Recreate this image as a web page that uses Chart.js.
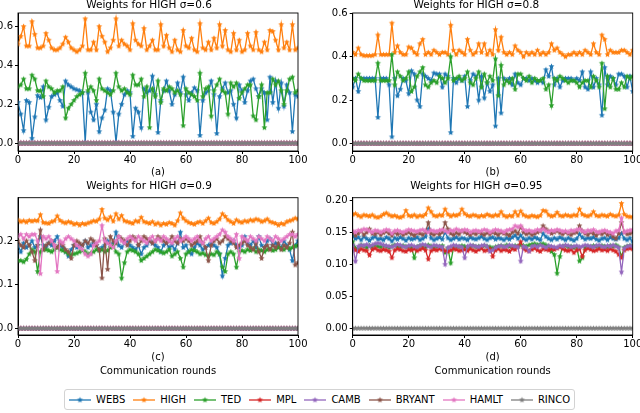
<!DOCTYPE html>
<html>
<head>
<meta charset="utf-8">
<script src="https://cdn.jsdelivr.net/npm/chart.js@4.4.1/dist/chart.umd.min.js"></script>
<style>
  body { margin: 0; background: #fff; width: 640px; height: 413px; overflow: hidden; position: relative;
         font-family: "DejaVu Sans", sans-serif; }
  .panel { position: absolute; }
  #legend { position: absolute; left: 64px; top: 389px; height: 21px; box-sizing: border-box;
            border: 1px solid #d3d3d3; border-radius: 3px; padding: 0 4px 0 4px;
            display: flex; align-items: center; gap: 8px; font-size: 10px; color: #000; }
  #legend span.item { display: flex; align-items: center; gap: 5px; }
</style>
</head>
<body>
<canvas id="pa" class="panel"></canvas>
<canvas id="pb" class="panel"></canvas>
<canvas id="pc" class="panel"></canvas>
<canvas id="pd" class="panel"></canvas>
<div id="legend"></div>
<script>
// ---- data ----
const ROUNDS = Array.from({ length: 101 }, (_, i) => i);
const NAMES = ["WEBS", "HIGH", "TED", "MPL", "CAMB", "BRYANT", "HAMLT", "RINCO"];
const COLORS = ["#1f77b4", "#ff7f0e", "#2ca02c", "#d62728", "#9467bd", "#8c564b", "#e377c2", "#7f7f7f"];
const X_TICKS = [0, 20, 40, 60, 80, 100];

const ZEROS = [
  0,0,0,0,0,0,0,0,0,0, 0,0,0,0,0,0,0,0,0,0, 0,0,0,0,0,0,0,0,0,0,
  0,0,0,0,0,0,0,0,0,0, 0,0,0,0,0,0,0,0,0,0, 0,0,0,0,0,0,0,0,0,0,
  0,0,0,0,0,0,0,0,0,0, 0,0,0,0,0,0,0,0,0,0, 0,0,0,0,0,0,0,0,0,0,
  0,0,0,0,0,0,0,0,0,0, 0,
];

// (a) sigma = 0.6
const A_WEBS = [
  0.21,0.15,0.065,0.22,0.21,0.025,0.135,0.245,0.235,0.29,
  0.12,0.185,0.24,0.25,0.26,0.22,0.19,0.32,0.30,0.29,
  0.28,0.275,0.27,0.26,0.005,0.26,0.16,0.12,0.20,0.06,
  0.13,0.17,0.28,0.27,0.16,0.005,0.15,0.20,0.25,0.27,
  0.26,0.035,0.18,0.16,0.08,0.28,0.26,0.27,0.345,0.25,
  0.055,0.22,0.27,0.32,0.27,0.20,0.25,0.31,0.26,0.34,
  0.25,0.22,0.26,0.285,0.27,0.04,0.22,0.26,0.27,0.32,
  0.25,0.05,0.24,0.28,0.31,0.26,0.27,0.20,0.13,0.30,
  0.27,0.21,0.27,0.32,0.33,0.28,0.24,0.28,0.26,0.12,
  0.34,0.21,0.32,0.18,0.31,0.19,0.30,0.26,0.06,0.25,
  0.24,
];
const A_HIGH = [
  0.51,0.55,0.60,0.50,0.50,0.625,0.56,0.49,0.49,0.50,
  0.565,0.53,0.49,0.48,0.48,0.49,0.51,0.545,0.52,0.49,
  0.48,0.47,0.48,0.50,0.64,0.48,0.48,0.52,0.48,0.60,
  0.55,0.52,0.47,0.49,0.53,0.64,0.50,0.53,0.51,0.50,
  0.48,0.615,0.53,0.51,0.50,0.59,0.48,0.50,0.53,0.48,
  0.48,0.61,0.50,0.555,0.49,0.47,0.53,0.48,0.47,0.58,
  0.50,0.49,0.54,0.48,0.47,0.615,0.49,0.48,0.52,0.48,
  0.54,0.49,0.61,0.50,0.58,0.48,0.47,0.565,0.48,0.53,
  0.47,0.48,0.565,0.50,0.48,0.57,0.48,0.47,0.52,0.48,
  0.58,0.575,0.53,0.48,0.61,0.49,0.52,0.48,0.61,0.48,
  0.49,
];
const A_TED = [
  0.29,0.30,0.33,0.28,0.28,0.35,0.33,0.27,0.27,0.24,
  0.32,0.29,0.28,0.26,0.27,0.27,0.29,0.13,0.18,0.20,
  0.22,0.24,0.25,0.26,0.36,0.27,0.29,0.27,0.22,0.33,
  0.28,0.27,0.26,0.25,0.27,0.36,0.29,0.27,0.28,0.26,
  0.25,0.35,0.30,0.30,0.33,0.24,0.29,0.08,0.28,0.24,
  0.32,0.21,0.28,0.27,0.29,0.28,0.26,0.27,0.25,0.09,
  0.28,0.26,0.25,0.24,0.22,0.36,0.24,0.28,0.29,0.14,
  0.27,0.30,0.33,0.27,0.26,0.15,0.31,0.29,0.31,0.23,
  0.26,0.28,0.30,0.30,0.14,0.12,0.24,0.30,0.08,0.26,
  0.26,0.33,0.30,0.32,0.27,0.20,0.27,0.33,0.34,0.26,
  0.27,
];

// (b) sigma = 0.8
const B_WEBS = [
  0.26,0.30,0.24,0.30,0.30,0.30,0.30,0.30,0.30,0.12,
  0.30,0.30,0.30,0.27,0.03,0.30,0.22,0.25,0.30,0.29,
  0.23,0.335,0.32,0.20,0.17,0.32,0.31,0.30,0.29,0.325,
  0.32,0.32,0.26,0.32,0.31,0.05,0.30,0.28,0.30,0.29,
  0.31,0.17,0.29,0.32,0.31,0.20,0.31,0.21,0.28,0.24,
  0.27,0.08,0.30,0.14,0.30,0.29,0.30,0.27,0.32,0.28,
  0.27,0.30,0.30,0.29,0.30,0.29,0.28,0.29,0.28,0.34,
  0.31,0.355,0.27,0.30,0.26,0.29,0.30,0.30,0.30,0.29,
  0.30,0.29,0.33,0.26,0.25,0.33,0.26,0.30,0.27,0.13,
  0.35,0.27,0.31,0.30,0.27,0.32,0.32,0.31,0.26,0.31,
  0.24,
];
const B_HIGH = [
  0.42,0.41,0.44,0.41,0.405,0.405,0.405,0.405,0.41,0.50,
  0.41,0.41,0.41,0.41,0.555,0.42,0.45,0.42,0.41,0.41,
  0.445,0.44,0.42,0.41,0.46,0.48,0.41,0.42,0.41,0.43,
  0.42,0.41,0.42,0.42,0.41,0.545,0.43,0.41,0.43,0.42,
  0.41,0.48,0.43,0.41,0.42,0.46,0.42,0.46,0.41,0.43,
  0.41,0.525,0.43,0.49,0.42,0.41,0.42,0.41,0.45,0.43,
  0.42,0.40,0.42,0.41,0.42,0.41,0.43,0.41,0.42,0.41,
  0.42,0.46,0.43,0.44,0.42,0.41,0.40,0.41,0.41,0.42,
  0.41,0.42,0.41,0.43,0.42,0.41,0.46,0.42,0.41,0.50,
  0.48,0.41,0.43,0.42,0.42,0.42,0.43,0.43,0.42,0.41,
  0.43,
];
const B_TED = [
  0.30,0.29,0.32,0.30,0.29,0.29,0.29,0.29,0.29,0.37,
  0.29,0.29,0.29,0.29,0.41,0.27,0.33,0.31,0.29,0.30,
  0.33,0.24,0.26,0.31,0.33,0.35,0.27,0.26,0.28,0.29,
  0.28,0.31,0.30,0.28,0.30,0.40,0.29,0.30,0.31,0.29,
  0.30,0.33,0.28,0.27,0.30,0.33,0.26,0.32,0.28,0.31,
  0.29,0.39,0.22,0.36,0.27,0.29,0.28,0.30,0.25,0.32,
  0.32,0.30,0.29,0.31,0.28,0.30,0.29,0.29,0.30,0.25,
  0.27,0.175,0.30,0.29,0.31,0.30,0.29,0.28,0.29,0.29,
  0.28,0.26,0.28,0.29,0.29,0.26,0.31,0.29,0.26,0.37,
  0.16,0.31,0.26,0.30,0.25,0.25,0.28,0.26,0.31,0.30,
  0.31,
];

// (c) sigma = 0.9
const C_WEBS = [
  0.19,0.175,0.195,0.185,0.19,0.20,0.185,0.19,0.21,0.19,
  0.185,0.195,0.19,0.20,0.21,0.19,0.185,0.175,0.165,0.18,
  0.19,0.185,0.19,0.19,0.20,0.185,0.19,0.195,0.19,0.18,
  0.185,0.19,0.20,0.19,0.195,0.22,0.19,0.185,0.195,0.20,
  0.19,0.185,0.18,0.19,0.17,0.185,0.19,0.20,0.195,0.19,
  0.185,0.175,0.19,0.195,0.185,0.19,0.18,0.195,0.22,0.185,
  0.19,0.175,0.17,0.185,0.195,0.19,0.18,0.185,0.19,0.195,
  0.19,0.185,0.17,0.12,0.16,0.19,0.195,0.20,0.19,0.185,
  0.19,0.21,0.195,0.19,0.20,0.185,0.21,0.19,0.185,0.20,
  0.205,0.19,0.195,0.19,0.185,0.20,0.19,0.18,0.155,0.19,
  0.20,
];
const C_HIGH = [
  0.248,0.244,0.246,0.243,0.247,0.245,0.247,0.246,0.260,0.242,
  0.241,0.240,0.244,0.246,0.257,0.247,0.243,0.241,0.244,0.242,
  0.238,0.240,0.236,0.240,0.238,0.241,0.243,0.246,0.245,0.250,
  0.272,0.252,0.248,0.255,0.245,0.262,0.250,0.258,0.246,0.244,
  0.242,0.240,0.246,0.244,0.254,0.244,0.242,0.240,0.244,0.238,
  0.241,0.236,0.240,0.238,0.242,0.240,0.236,0.246,0.264,0.252,
  0.246,0.242,0.240,0.238,0.242,0.244,0.240,0.246,0.252,0.242,
  0.240,0.244,0.250,0.262,0.256,0.248,0.244,0.240,0.248,0.244,
  0.242,0.246,0.244,0.248,0.246,0.250,0.248,0.244,0.246,0.250,
  0.244,0.242,0.240,0.236,0.240,0.238,0.244,0.246,0.248,0.252,
  0.250,
];
const C_TED = [
  0.155,0.155,0.152,0.158,0.17,0.18,0.175,0.13,0.175,0.18,
  0.18,0.178,0.175,0.18,0.185,0.18,0.178,0.175,0.17,0.168,
  0.17,0.172,0.175,0.178,0.175,0.17,0.172,0.175,0.18,0.178,
  0.18,0.175,0.178,0.185,0.19,0.175,0.17,0.115,0.15,0.175,
  0.18,0.178,0.175,0.17,0.155,0.16,0.165,0.17,0.175,0.18,
  0.178,0.175,0.172,0.175,0.18,0.165,0.17,0.175,0.16,0.14,
  0.17,0.175,0.18,0.178,0.175,0.17,0.172,0.168,0.165,0.17,
  0.168,0.175,0.17,0.14,0.13,0.17,0.175,0.17,0.14,0.175,
  0.178,0.175,0.18,0.178,0.182,0.175,0.18,0.178,0.175,0.18,
  0.182,0.178,0.18,0.185,0.182,0.18,0.185,0.182,0.185,0.188,
  0.19,
];
const C_BRYANT = [
  0.20,0.19,0.185,0.20,0.19,0.175,0.155,0.19,0.225,0.18,
  0.19,0.195,0.20,0.19,0.185,0.195,0.19,0.18,0.175,0.16,
  0.19,0.20,0.195,0.19,0.20,0.195,0.205,0.20,0.19,0.18,
  0.115,0.205,0.135,0.21,0.20,0.195,0.21,0.205,0.20,0.19,
  0.20,0.21,0.205,0.19,0.20,0.21,0.205,0.20,0.195,0.20,
  0.21,0.205,0.20,0.195,0.20,0.21,0.20,0.195,0.205,0.20,
  0.205,0.20,0.19,0.195,0.20,0.21,0.195,0.185,0.155,0.19,
  0.20,0.205,0.195,0.20,0.21,0.205,0.20,0.195,0.185,0.19,
  0.195,0.20,0.19,0.185,0.18,0.195,0.175,0.16,0.185,0.19,
  0.18,0.19,0.185,0.195,0.18,0.19,0.185,0.195,0.22,0.145,
  0.15,
];
const C_HAMLT = [
  0.21,0.215,0.205,0.215,0.21,0.215,0.215,0.20,0.125,0.21,
  0.205,0.21,0.20,0.19,0.13,0.20,0.195,0.205,0.21,0.205,
  0.20,0.19,0.185,0.18,0.17,0.165,0.17,0.19,0.195,0.20,
  0.235,0.20,0.195,0.19,0.185,0.20,0.21,0.20,0.195,0.205,
  0.21,0.205,0.20,0.21,0.205,0.20,0.195,0.205,0.21,0.20,
  0.205,0.20,0.21,0.205,0.20,0.195,0.205,0.21,0.20,0.205,
  0.21,0.205,0.20,0.205,0.21,0.20,0.195,0.205,0.21,0.20,
  0.205,0.21,0.215,0.225,0.22,0.21,0.205,0.20,0.215,0.16,
  0.21,0.205,0.20,0.21,0.205,0.20,0.21,0.205,0.20,0.21,
  0.205,0.20,0.21,0.205,0.20,0.205,0.21,0.215,0.215,0.21,
  0.215,
];

// (d) sigma = 0.95
const D_WEBS = [
  0.145,0.140,0.142,0.138,0.143,0.140,0.137,0.141,0.143,0.139,
  0.140,0.138,0.142,0.140,0.136,0.141,0.139,0.142,0.140,0.137,
  0.141,0.139,0.140,0.142,0.138,0.140,0.143,0.155,0.141,0.138,
  0.140,0.142,0.139,0.150,0.141,0.138,0.140,0.142,0.139,0.141,
  0.140,0.138,0.142,0.140,0.139,0.141,0.143,0.140,0.138,0.141,
  0.142,0.139,0.141,0.140,0.138,0.141,0.139,0.142,0.145,0.140,
  0.145,0.140,0.138,0.141,0.139,0.142,0.140,0.138,0.148,0.143,
  0.140,0.138,0.141,0.139,0.142,0.140,0.138,0.141,0.139,0.137,
  0.140,0.147,0.142,0.139,0.141,0.140,0.142,0.139,0.137,0.140,
  0.141,0.138,0.142,0.140,0.139,0.141,0.148,0.140,0.138,0.141,
  0.135,
];
const D_HIGH = [
  0.178,0.179,0.176,0.174,0.177,0.176,0.175,0.177,0.174,0.173,
  0.175,0.178,0.180,0.177,0.175,0.176,0.174,0.173,0.175,0.184,
  0.176,0.175,0.177,0.174,0.176,0.175,0.178,0.188,0.182,0.176,
  0.175,0.177,0.176,0.186,0.178,0.175,0.177,0.176,0.178,0.186,
  0.179,0.176,0.175,0.177,0.176,0.174,0.176,0.175,0.178,0.176,
  0.175,0.177,0.176,0.182,0.176,0.174,0.176,0.175,0.182,0.176,
  0.183,0.177,0.175,0.174,0.176,0.175,0.174,0.176,0.184,0.183,
  0.177,0.175,0.176,0.181,0.176,0.175,0.177,0.176,0.175,0.177,
  0.176,0.186,0.178,0.176,0.175,0.177,0.182,0.176,0.175,0.177,
  0.176,0.175,0.178,0.176,0.175,0.177,0.195,0.178,0.175,0.174,
  0.174,
];
const D_TED = [
  0.135,0.125,0.124,0.130,0.128,0.126,0.129,0.127,0.130,0.128,
  0.127,0.129,0.128,0.126,0.128,0.130,0.127,0.128,0.129,0.127,
  0.128,0.126,0.110,0.127,0.129,0.128,0.127,0.130,0.128,0.126,
  0.128,0.127,0.129,0.118,0.125,0.102,0.126,0.128,0.127,0.129,
  0.128,0.126,0.128,0.129,0.127,0.128,0.126,0.129,0.128,0.127,
  0.125,0.127,0.128,0.129,0.127,0.130,0.128,0.127,0.129,0.128,
  0.130,0.129,0.128,0.130,0.131,0.132,0.130,0.131,0.132,0.130,
  0.128,0.120,0.115,0.086,0.112,0.128,0.129,0.127,0.128,0.126,
  0.127,0.105,0.110,0.126,0.128,0.127,0.129,0.128,0.127,0.129,
  0.128,0.127,0.129,0.128,0.130,0.127,0.112,0.126,0.128,0.129,
  0.128,
];
const D_MPL = [
  0.125,0.122,0.120,0.124,0.122,0.121,0.114,0.123,0.125,0.122,
  0.121,0.123,0.122,0.120,0.110,0.122,0.124,0.123,0.121,0.120,
  0.123,0.122,0.124,0.121,0.123,0.125,0.122,0.108,0.121,0.123,
  0.122,0.124,0.123,0.121,0.120,0.122,0.124,0.123,0.121,0.122,
  0.123,0.121,0.124,0.122,0.120,0.123,0.125,0.121,0.122,0.124,
  0.112,0.122,0.124,0.121,0.123,0.122,0.120,0.124,0.123,0.128,
  0.135,0.124,0.122,0.121,0.123,0.125,0.122,0.120,0.124,0.123,
  0.122,0.124,0.123,0.125,0.127,0.124,0.122,0.121,0.123,0.118,
  0.122,0.124,0.112,0.122,0.125,0.123,0.121,0.122,0.124,0.122,
  0.123,0.121,0.124,0.122,0.120,0.115,0.110,0.122,0.124,0.125,
  0.124,
];
const D_CAMB = [
  0.130,0.105,0.128,0.130,0.129,0.131,0.128,0.130,0.132,0.133,
  0.132,0.130,0.129,0.128,0.127,0.129,0.131,0.130,0.128,0.127,
  0.129,0.130,0.128,0.127,0.129,0.131,0.130,0.128,0.127,0.130,
  0.129,0.128,0.127,0.100,0.126,0.128,0.130,0.129,0.128,0.127,
  0.110,0.128,0.130,0.129,0.128,0.127,0.129,0.130,0.128,0.120,
  0.122,0.126,0.128,0.129,0.127,0.128,0.130,0.129,0.128,0.127,
  0.105,0.128,0.126,0.120,0.128,0.129,0.127,0.130,0.128,0.126,
  0.129,0.128,0.127,0.126,0.129,0.128,0.130,0.129,0.127,0.128,
  0.129,0.127,0.128,0.130,0.129,0.128,0.127,0.129,0.130,0.128,
  0.127,0.129,0.128,0.130,0.128,0.126,0.088,0.125,0.128,0.129,
  0.128,
];
const D_BRYANT = [
  0.150,0.145,0.148,0.152,0.146,0.150,0.155,0.148,0.147,0.150,
  0.146,0.149,0.151,0.148,0.145,0.150,0.147,0.149,0.146,0.148,
  0.150,0.147,0.145,0.149,0.148,0.146,0.150,0.165,0.148,0.146,
  0.149,0.147,0.150,0.165,0.155,0.148,0.146,0.149,0.147,0.152,
  0.150,0.148,0.146,0.149,0.147,0.150,0.148,0.146,0.149,0.147,
  0.150,0.148,0.146,0.150,0.148,0.147,0.145,0.150,0.152,0.148,
  0.158,0.150,0.147,0.149,0.146,0.148,0.150,0.152,0.160,0.155,
  0.151,0.148,0.150,0.152,0.149,0.147,0.150,0.148,0.146,0.149,
  0.150,0.160,0.152,0.148,0.146,0.150,0.148,0.145,0.149,0.147,
  0.150,0.146,0.148,0.143,0.140,0.148,0.165,0.150,0.147,0.148,
  0.150,
];
const D_HAMLT = [
  0.152,0.150,0.153,0.152,0.155,0.154,0.152,0.150,0.153,0.152,
  0.150,0.152,0.154,0.153,0.148,0.152,0.153,0.151,0.150,0.152,
  0.154,0.153,0.152,0.151,0.153,0.154,0.152,0.150,0.153,0.152,
  0.151,0.153,0.154,0.152,0.150,0.153,0.152,0.155,0.153,0.152,
  0.154,0.153,0.150,0.152,0.153,0.151,0.152,0.154,0.153,0.150,
  0.152,0.154,0.153,0.152,0.150,0.153,0.154,0.155,0.160,0.158,
  0.160,0.154,0.152,0.153,0.151,0.152,0.154,0.153,0.155,0.152,
  0.150,0.153,0.152,0.154,0.153,0.151,0.152,0.150,0.153,0.152,
  0.154,0.155,0.152,0.150,0.153,0.152,0.154,0.151,0.150,0.152,
  0.153,0.151,0.150,0.148,0.152,0.153,0.172,0.150,0.152,0.153,
  0.154,
];

const A_TICKS = [0.0, 0.2, 0.4, 0.6];
const B_TICKS = [0.0, 0.2, 0.4, 0.6];
const C_TICKS = [0.0, 0.1, 0.2];
const D_TICKS = [0.00, 0.05, 0.10, 0.15, 0.20];

// ---- drawing ----
const FONT = { family: '"DejaVu Sans", sans-serif', size: 10 };
const INK = "#000";

// matplotlib-like filled '*' marker
function starMarker(color, r) {
  const size = Math.ceil(r * 2) + 2;
  const c = document.createElement("canvas");
  c.width = size; c.height = size;
  const g = c.getContext("2d");
  const cx = size / 2, cy = size / 2, inner = r * 0.45;
  g.beginPath();
  for (let k = 0; k < 10; k++) {
    const rad = k % 2 ? inner : r;
    const a = -Math.PI / 2 + (k * Math.PI) / 5;
    const px = cx + rad * Math.cos(a), py = cy + rad * Math.sin(a);
    if (k === 0) g.moveTo(px, py); else g.lineTo(px, py);
  }
  g.closePath();
  g.fillStyle = color;
  g.fill();
  return c;
}
const MARKERS = COLORS.map((c) => starMarker(c, 3.1));

// spines on all four sides
const frame = {
  id: "frame",
  afterDatasetsDraw(chart) {
    const { ctx, chartArea: a } = chart;
    ctx.save();
    ctx.strokeStyle = INK;
    ctx.lineWidth = 0.9;
    ctx.strokeRect(a.left, a.top, a.right - a.left, a.bottom - a.top);
    ctx.restore();
  },
};

function panel(id, box, title, xTitle, series, yTicks, yMin, yMax, decimals) {
  const canvas = document.getElementById(id);
  canvas.style.left = box.left + "px";
  canvas.style.top = box.top + "px";
  canvas.width = box.width;
  canvas.height = box.height;
  return new Chart(canvas, {
    type: "line",
    data: {
      datasets: NAMES.map((name, i) => ({
        label: name,
        data: ROUNDS.map((r, k) => ({ x: r, y: series[i][k] })),
        borderColor: COLORS[i],
        backgroundColor: COLORS[i],
        borderWidth: 1.3,
        pointStyle: MARKERS[i],
        pointRadius: 3,
        tension: 0,
        order: -i,
      })),
    },
    options: {
      responsive: false,
      animation: false,
      events: [],
      layout: { padding: { left: 0, right: box.padRight, top: 0, bottom: 0 } },
      plugins: {
        legend: { display: false },
        tooltip: { enabled: false },
        title: {
          display: true,
          text: title,
          color: INK,
          font: { ...FONT, size: 10.5, weight: "normal", lineHeight: 1 },
          padding: { top: 0, bottom: box.titleGap },
        },
      },
      scales: {
        x: {
          type: "linear",
          min: 0,
          max: 100,
          afterBuildTicks: (s) => { s.ticks = X_TICKS.map((v) => ({ value: v })); },
          afterFit: (s) => { s.height = box.xAxisH; s.paddingLeft = 0; s.paddingRight = 0; },
          ticks: { color: INK, font: { ...FONT, lineHeight: 1 }, padding: 1, maxRotation: 0, autoSkip: false },
          grid: { drawOnChartArea: false, drawTicks: true, tickLength: 3, color: INK },
          border: { display: true, color: INK },
          title: {
            display: true,
            text: xTitle,
            color: INK,
            font: { ...FONT, lineHeight: 1.35 },
            padding: 0,
          },
        },
        y: {
          min: yMin,
          max: yMax,
          afterBuildTicks: (s) => { s.ticks = yTicks.map((v) => ({ value: v })); },
          afterFit: (s) => { s.width = box.yAxisW; s.paddingTop = 0; s.paddingBottom = 0; },
          ticks: {
            color: INK,
            font: FONT,
            padding: 2,
            callback: (v) => Number(v).toFixed(decimals),
          },
          grid: { drawOnChartArea: false, drawTicks: true, tickLength: 3, color: INK },
          border: { display: true, color: INK },
        },
      },
    },
    plugins: [frame],
  });
}

const TOP_L = { left: 0, top: 0, width: 320, height: 179, padRight: 22, yAxisW: 18, xAxisH: 28, titleGap: 2.5 };
const TOP_R = { left: 320, top: 0, width: 320, height: 179, padRight: 7.3, yAxisW: 32.7, xAxisH: 28, titleGap: 2.5 };
const BOT_L = { left: 0, top: 181, width: 320, height: 197, padRight: 22, yAxisW: 18, xAxisH: 43, titleGap: 6.2 };
const BOT_R = { left: 320, top: 181, width: 320, height: 197, padRight: 7.3, yAxisW: 32.7, xAxisH: 43, titleGap: 6.2 };

panel("pa", TOP_L, "Weights for HIGH \u03c3=0.6", "(a)",
  [A_WEBS, A_HIGH, A_TED, ZEROS, ZEROS, ZEROS, ZEROS, ZEROS], A_TICKS, -0.04, 0.67, 1);
panel("pb", TOP_R, "Weights for HIGH \u03c3=0.8", "(b)",
  [B_WEBS, B_HIGH, B_TED, ZEROS, ZEROS, ZEROS, ZEROS, ZEROS], B_TICKS, -0.035, 0.602, 1);
panel("pc", BOT_L, "Weights for HIGH \u03c3=0.9", ["(c)", "Communication rounds"],
  [C_WEBS, C_HIGH, C_TED, ZEROS, ZEROS, C_BRYANT, C_HAMLT, ZEROS], C_TICKS, -0.0153, 0.299, 1);
panel("pd", BOT_R, "Weights for HIGH \u03c3=0.95", ["(d)", "Communication rounds"],
  [D_WEBS, D_HIGH, D_TED, D_MPL, D_CAMB, D_BRYANT, D_HAMLT, ZEROS], D_TICKS, -0.0105, 0.204, 2);

// shared legend
const legend = document.getElementById("legend");
NAMES.forEach((name, i) => {
  const item = document.createElement("span");
  item.className = "item";
  const sw = document.createElement("canvas");
  sw.width = 22; sw.height = 8;
  const g = sw.getContext("2d");
  g.strokeStyle = COLORS[i];
  g.lineWidth = 1.3;
  g.beginPath(); g.moveTo(0, 4); g.lineTo(22, 4); g.stroke();
  g.drawImage(MARKERS[i], 11 - MARKERS[i].width / 2, 4 - MARKERS[i].height / 2);
  const label = document.createElement("span");
  label.textContent = name;
  item.appendChild(sw);
  item.appendChild(label);
  legend.appendChild(item);
});
</script>
</body>
</html>
